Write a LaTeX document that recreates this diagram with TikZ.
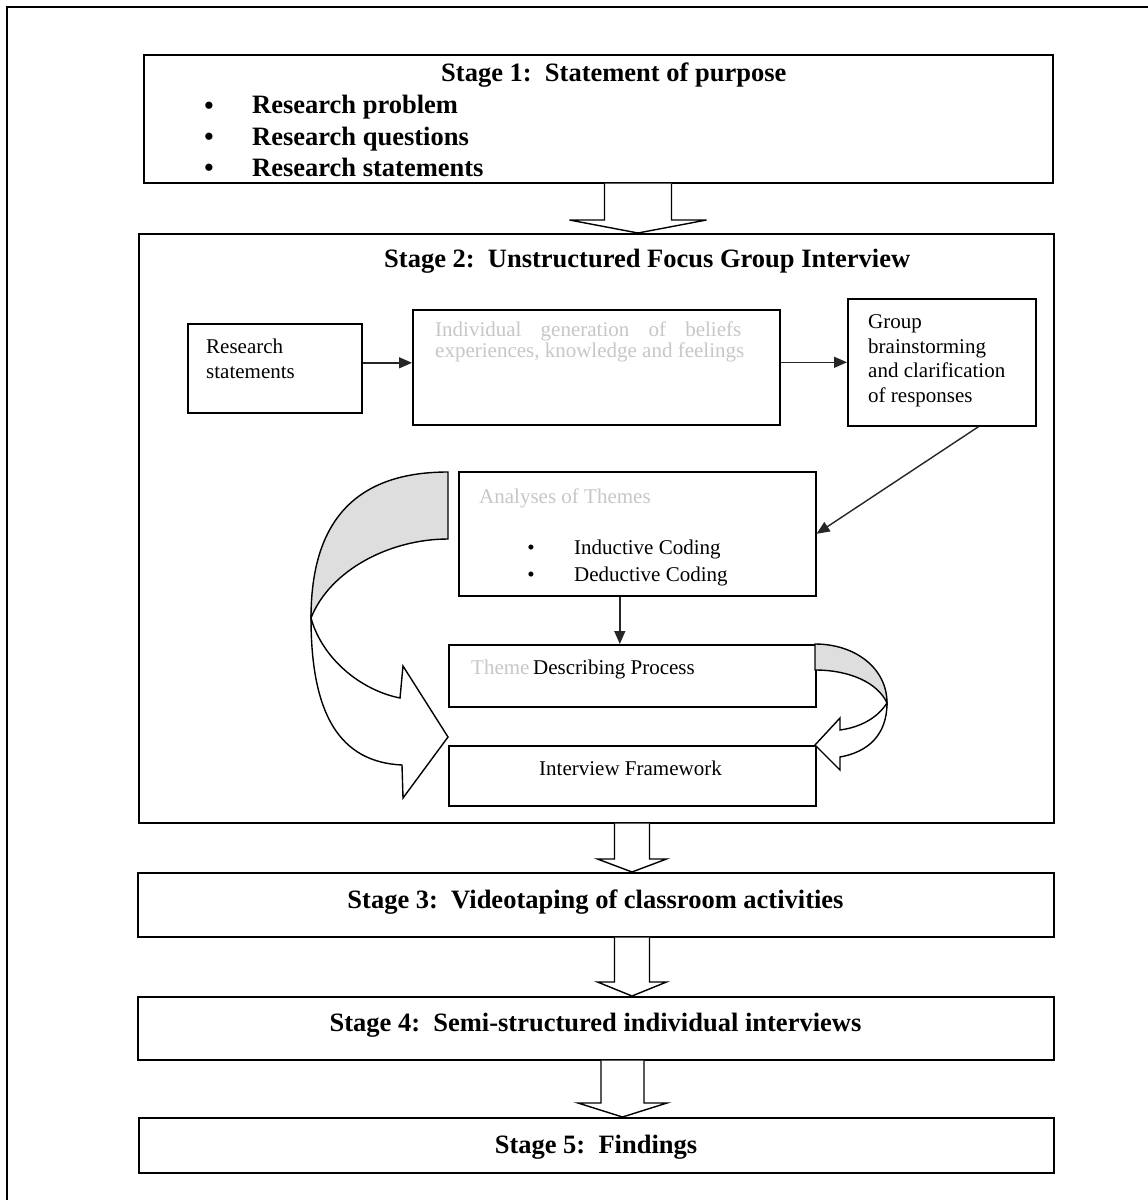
\documentclass[tikz,border=0pt]{standalone}
\usepackage{fontspec}
\setmainfont{Liberation Serif}
\usetikzlibrary{arrows.meta,calc}

% hollow block arrow from the bottom of one box to the top of the next:
% #1 from, #2 to, #3 x of the tip, #4 half shaft, #5 half head, #6 head length
\newcommand\stagearrow[6]{%
  \draw[blockarrow] let \p1=(#1.south), \p2=(#2.north) in
    ({(#3-#4)*1pt},\y1) -- ({(#3-#4)*1pt},{\y2+#6pt}) -- ({(#3-#5)*1pt},{\y2+#6pt})
    -- ({#3*1pt},\y2) -- ({(#3+#5)*1pt},{\y2+#6pt}) -- ({(#3+#4)*1pt},{\y2+#6pt})
    -- ({(#3+#4)*1pt},\y1);}

\begin{document}
\begin{tikzpicture}[x=1pt,y=-1pt,
  framebox/.style={draw, line width=1.6pt, inner sep=0pt, anchor=north west},
  plaintxt/.style={inner sep=0pt, font=\fontsize{21}{24.5}\selectfont, text height=15pt, text depth=4.6pt},
  multitxt/.style={inner sep=0pt, font=\fontsize{21}{24.5}\selectfont, align=left},
  boldtxt/.style={inner sep=0pt, font=\fontsize{26.5}{31}\selectfont\bfseries, text height=19pt, text depth=6pt},
  faint/.style={text=black!22},
  conn/.style={draw=black!85, line width=1.4pt, -{Triangle[length=13pt,width=11pt]}},
  blockarrow/.style={draw, fill=white, line width=1.4pt, line join=miter},
  twist/.style={draw, line width=1.4pt, fill=black!13},
  band/.style={draw, line width=1.4pt, fill=white}]

\useasboundingbox (0,0) rectangle (1148,1200);
\fill[white] (0,0) rectangle (1148,1200);
\draw[line width=1.6pt] (7,1200) -- (7,7) -- (1148,7);

% ---------- boxes ----------
\node[framebox, minimum width=909pt, minimum height=128pt] (s1) at (143,54) {};
\node[framebox, minimum width=915pt, minimum height=589pt] (s2) at (138,233) {};
\node[framebox, minimum width=174pt, minimum height=89pt]  (rs) at (187,323) {};
\node[framebox, minimum width=367pt, minimum height=115pt] (ig) at (412,309) {};
\node[framebox, minimum width=188pt, minimum height=127pt] (gb) at (847,298) {};
\node[framebox, minimum width=357pt, minimum height=124pt] (an) at (458,471) {};
\node[framebox, minimum width=367pt, minimum height=62pt]  (dp) at (448,644) {};
\node[framebox, minimum width=367pt, minimum height=60pt]  (fw) at (448,745) {};
\node[framebox, minimum width=916pt, minimum height=64pt]  (s3) at (137,872) {};
\node[framebox, minimum width=916pt, minimum height=63pt]  (s4) at (137,996) {};
\node[framebox, minimum width=915pt, minimum height=55pt]  (s5) at (138,1117) {};

% ---------- texts ----------
\node[boldtxt, anchor=west] (s1t) at (441,75) {Stage 1:\ \ Statement of purpose};
\node[boldtxt] (s1b1) at (209,108) {\textbullet};
\node[boldtxt] (s1b2) at (209,139) {\textbullet};
\node[boldtxt] (s1b3) at (209,170) {\textbullet};
\node[boldtxt, anchor=west] (s1i1) at (252,107) {Research problem};
\node[boldtxt, anchor=west] (s1i2) at (252,138.5) {Research questions};
\node[boldtxt, anchor=west] (s1i3) at (252,169.5) {Research statements};

\node[boldtxt, anchor=west] (s2t) at (384,261) {Stage 2:\ \ Unstructured Focus Group Interview};

\node[multitxt, anchor=west] (rst) at (206,359) {Research\\statements};
\node[multitxt, faint, anchor=west, font=\fontsize{21}{21}\selectfont] (igt) at (435,341.5)
  {\makebox[306pt][s]{Individual generation of beliefs}\\experiences, knowledge and feelings};
\node[multitxt, anchor=west] (gbt) at (868,361) {Group\\brainstorming\\and clarification\\of responses};

\node[plaintxt, faint, anchor=west] (ant) at (479,498) {Analyses of Themes};
\node[plaintxt] (anb1) at (531,549) {\textbullet};
\node[plaintxt] (anb2) at (531,576) {\textbullet};
\node[plaintxt, anchor=west] (ani1) at (574,549) {Inductive Coding};
\node[plaintxt, anchor=west] (ani2) at (574,576) {Deductive Coding};

\node[plaintxt, faint, anchor=west] (dpa) at (471,669) {Theme};
\node[plaintxt, anchor=west] (dpt) at (533,669) {Describing Process};
\node[plaintxt] (fwt) at (630.5,770) {Interview Framework};

\node[boldtxt] (s3t) at (595.5,902) {Stage 3:\ \ Videotaping of classroom activities};
\node[boldtxt] (s4t) at (595.5,1025) {Stage 4:\ \ Semi-structured individual interviews};
\node[boldtxt] (s5t) at (596,1147) {Stage 5:\ \ Findings};

% ---------- connectors ----------
\coordinate (r1) at ([yshift=5.5pt]rs.east);
\draw[conn] (r1) -- (r1 -| ig.west);
\draw[conn] (ig.east |- gb.west) -- (gb.west);
\coordinate (g1) at ([xshift=-58pt]gb.south east);
\draw[conn] (g1) -- (an.east);
\coordinate (a1) at ([xshift=-17.5pt]an.south);
\draw[conn] (a1) -- (a1 |- dp.north);

% ---------- block arrows between the stages ----------
\stagearrow{s1}{s2}{638}{33.5}{68.5}{13}
\stagearrow{s2}{s3}{632}{17.5}{34.5}{13}
\stagearrow{s3}{s4}{632}{17.5}{34.5}{14}
\stagearrow{s4}{s5}{622.5}{21.5}{44.5}{14}

% ---------- curved arrow on the left ----------
\path[twist] (448,472) .. controls (352,472) and (311,525) .. (311,618)
  .. controls (330,570) and (390,539) .. (448,539) -- cycle;
\path[band] (311,618) .. controls (311,715) and (340,762) .. (402,765)
  -- (403,798) -- (448,737) -- (403,666) -- (400,698)
  .. controls (360,690) and (322,658) .. (311,618) -- cycle;

% ---------- curved arrow on the right ----------
\path[twist] (815,644) .. controls (855,644) and (887,668) .. (887,703)
  .. controls (878,683) and (850,670) .. (815,670) -- cycle;
\path[band] (887,703) .. controls (887,735) and (868,752) .. (840,757)
  -- (840,770) -- (815,745) -- (840,718) -- (840,730)
  .. controls (862,727) and (878,717) .. (887,703) -- cycle;

\end{tikzpicture}
\end{document}
